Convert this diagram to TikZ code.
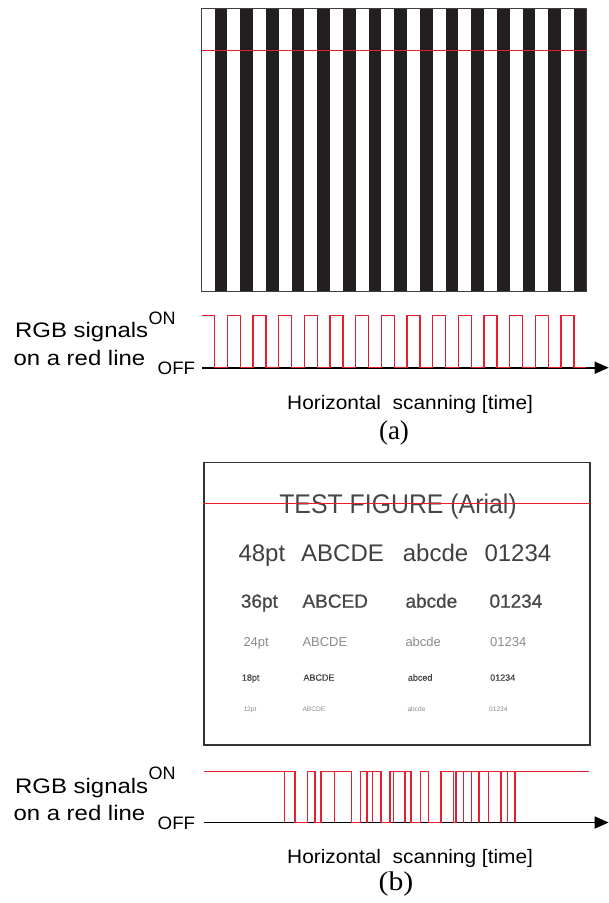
\documentclass[tikz,border=0pt]{standalone}
\usepackage{fontspec}
\setmainfont{Liberation Serif}
\newfontfamily\arial{Liberation Sans}
\newfontfamily\arialfb[FakeBold=0.8]{Liberation Sans}
\usepackage{graphicx}
\usetikzlibrary{arrows.meta}
\definecolor{sigred}{RGB}{230,30,45}
\definecolor{stripeblk}{RGB}{35,31,32}
\newcommand{\sx}[2]{\scalebox{#1}[1]{#2}}
\begin{document}
\begin{tikzpicture}[x=1pt,y=-1pt,
  lbl/.style={inner sep=0pt, anchor=base west, font=\arial\fontsize{21}{25}\selectfont},
  onoff/.style={inner sep=0pt, anchor=base west, font=\arial\fontsize{18}{21}\selectfont},
  hlbl/.style={inner sep=0pt, anchor=base west, font=\arial\fontsize{19.5}{23}\selectfont},
  panelcap/.style={inner sep=0pt, anchor=base, font=\fontsize{27}{31}\selectfont},
  axisline/.style={line width=1.8pt, -{Triangle[length=14pt,width=12pt]}},
  sig/.style={draw=sigred, line width=1.4pt},
  redline/.style={draw=sigred, line width=1.5pt},
  tf/.style={inner sep=0pt, anchor=base west},
]
\useasboundingbox (0,0) rectangle (609,903);
\fill[white] (0,0) rectangle (609,903);

% ---------- (a) stripes ----------
\foreach \i in {0,...,14} {
  \fill[stripeblk] ({201.7+(2*\i+1)*12.8333},8.3) rectangle +(12.8333,283.4);
}
\draw[black!75, line width=0.8pt] (201.7,8.3) rectangle (586.7,291.7);
\draw[redline] (201.7,50.7) -- (586.7,50.7);

% axis (a)
\coordinate (axA0) at (202,367.7);
\coordinate (axA1) at (608.6,367.7);
\draw[axisline] (axA0) -- (axA1);
% signal (a)
\draw[sig] (202.3,315.7)
  \foreach \i in {0,...,13} {
    -- ({201.7+(2*\i+1)*12.8333},315.7) -- ({201.7+(2*\i+1)*12.8333},367.7)
    -- ({201.7+(2*\i+2)*12.8333},367.7) -- ({201.7+(2*\i+2)*12.8333},315.7)
  }
  -- ({201.7+29*12.8333},315.7) -- ({201.7+29*12.8333},367.7) -- (586,367.7);

\node[lbl]   (rgbA) at (15,337.7)   {\sx{1.14}{RGB signals}};
\node[onoff] (onA)  at (148.5,324.3) {\sx{1.0}{ON}};
\node[lbl]   (redA) at (13.3,365)   {\sx{1.14}{on a red line}};
\node[onoff] (offA) at (157.5,374)  {\sx{1.04}{OFF}};
\node[hlbl]  (horA) at (287,409.3)  {\sx{1.07}{Horizontal~ scanning [time]}};
\node[panelcap] (capA) at (394,439.5) {(a)};

% ---------- (b) test figure ----------
\draw[black!80, line width=1.1pt] (204,462.7) rectangle (590,745);
\node[tf, anchor=base, text=black!72, font=\arial\fontsize{27}{30}\selectfont] (title) at (398,513.3) {\sx{0.92}{TEST FIGURE (Arial)}};
\draw[redline] (203,503.3) -- (590,503.3);

\begin{scope}[every node/.style={tf, font=\arial\fontsize{24}{28}\selectfont, text=black!75}]
\node (r1a) at (238.3,561.7) {48pt};
\node (r1b) at (301,561.7)   {ABCDE};
\node (r1c) at (402.7,561.7) {abcde};
\node (r1d) at (484.3,561.7) {01234};
\end{scope}
\begin{scope}[every node/.style={tf, font=\arialfb\fontsize{19}{22}\selectfont, text=black!72}]
\node (r2a) at (240.7,607.7) {36pt};
\node (r2b) at (302.3,607.7) {ABCED};
\node (r2c) at (405.3,607.7) {abcde};
\node (r2d) at (489.3,607.7) {01234};
\end{scope}
\begin{scope}[every node/.style={tf, font=\arial\fontsize{13}{15}\selectfont, text=black!45}]
\node (r3a) at (243.3,646.7) {24pt};
\node (r3b) at (302.3,646.7) {ABCDE};
\node (r3c) at (405.3,646.7) {abcde};
\node (r3d) at (490,646.7)   {01234};
\end{scope}
\begin{scope}[every node/.style={tf, font=\arialfb\fontsize{9}{11}\selectfont, text=black!72}]
\node (r4a) at (241.7,680.7) {18pt};
\node (r4b) at (303.3,680.7) {ABCDE};
\node (r4c) at (407.7,680.7) {abced};
\node (r4d) at (490,680.7)   {01234};
\end{scope}
\begin{scope}[every node/.style={tf, font=\arial\fontsize{6.6}{8}\selectfont, text=black!45}]
\node (r5a) at (243.3,711.7) {12pt};
\node (r5b) at (302.3,711.7) {ABCDE};
\node (r5c) at (407.3,711.7) {abcde};
\node (r5d) at (489,711.7)   {01234};
\end{scope}

% axis (b)
\coordinate (axB0) at (204.3,822.5);
\coordinate (axB1) at (608.6,822.5);
\draw[axisline] (axB0) -- (axB1);
% signal (b)
\draw[sig] (204.3,771.5)
  -- (284.3,771.5) -- (284.3,822.5) -- (284.3,771.5)
  -- (295,771.5) -- (295,822.5) -- (307.3,822.5) -- (307.3,771.5)
  -- (315,771.5) -- (315,822.5) -- (321,822.5) -- (321,771.5)
  -- (334.3,771.5) -- (334.3,822.5) -- (334.3,771.5)
  -- (351.7,771.5) -- (351.7,822.5) -- (360.3,822.5) -- (360.3,771.5)
  -- (367,771.5) -- (367,822.5) -- (367,771.5)
  -- (372.3,771.5) -- (372.3,822.5) -- (372.3,771.5)
  -- (381,771.5) -- (381,822.5) -- (390,822.5) -- (390,771.5)
  -- (393.3,771.5) -- (393.3,822.5) -- (393.3,771.5)
  -- (405,771.5) -- (405,822.5) -- (405,771.5)
  -- (411,771.5) -- (411,822.5) -- (420.7,822.5) -- (420.7,771.5)
  -- (428.3,771.5) -- (428.3,822.5) -- (441,822.5) -- (441,771.5)
  -- (453.3,771.5) -- (453.3,822.5) -- (456,822.5) -- (456,771.5)
  \foreach \g in {463.3,471.7,479,488.3,501,507.7,515} {
    -- (\g,771.5) -- (\g,822.5) -- (\g,771.5)
  }
  -- (589,771.5);

\node[lbl]   (rgbB) at (15,793.2)     {\sx{1.14}{RGB signals}};
\node[onoff] (onB)  at (148.5,779.8)  {\sx{1.0}{ON}};
\node[lbl]   (redB) at (13.3,820.5)   {\sx{1.14}{on a red line}};
\node[onoff] (offB) at (157.5,829.5)  {\sx{1.04}{OFF}};
\node[hlbl]  (horB) at (287,863.5)    {\sx{1.07}{Horizontal~ scanning [time]}};
\node[panelcap] (capB) at (396,890)   {\sx{1.1}{(b)}};
\end{tikzpicture}
\end{document}
